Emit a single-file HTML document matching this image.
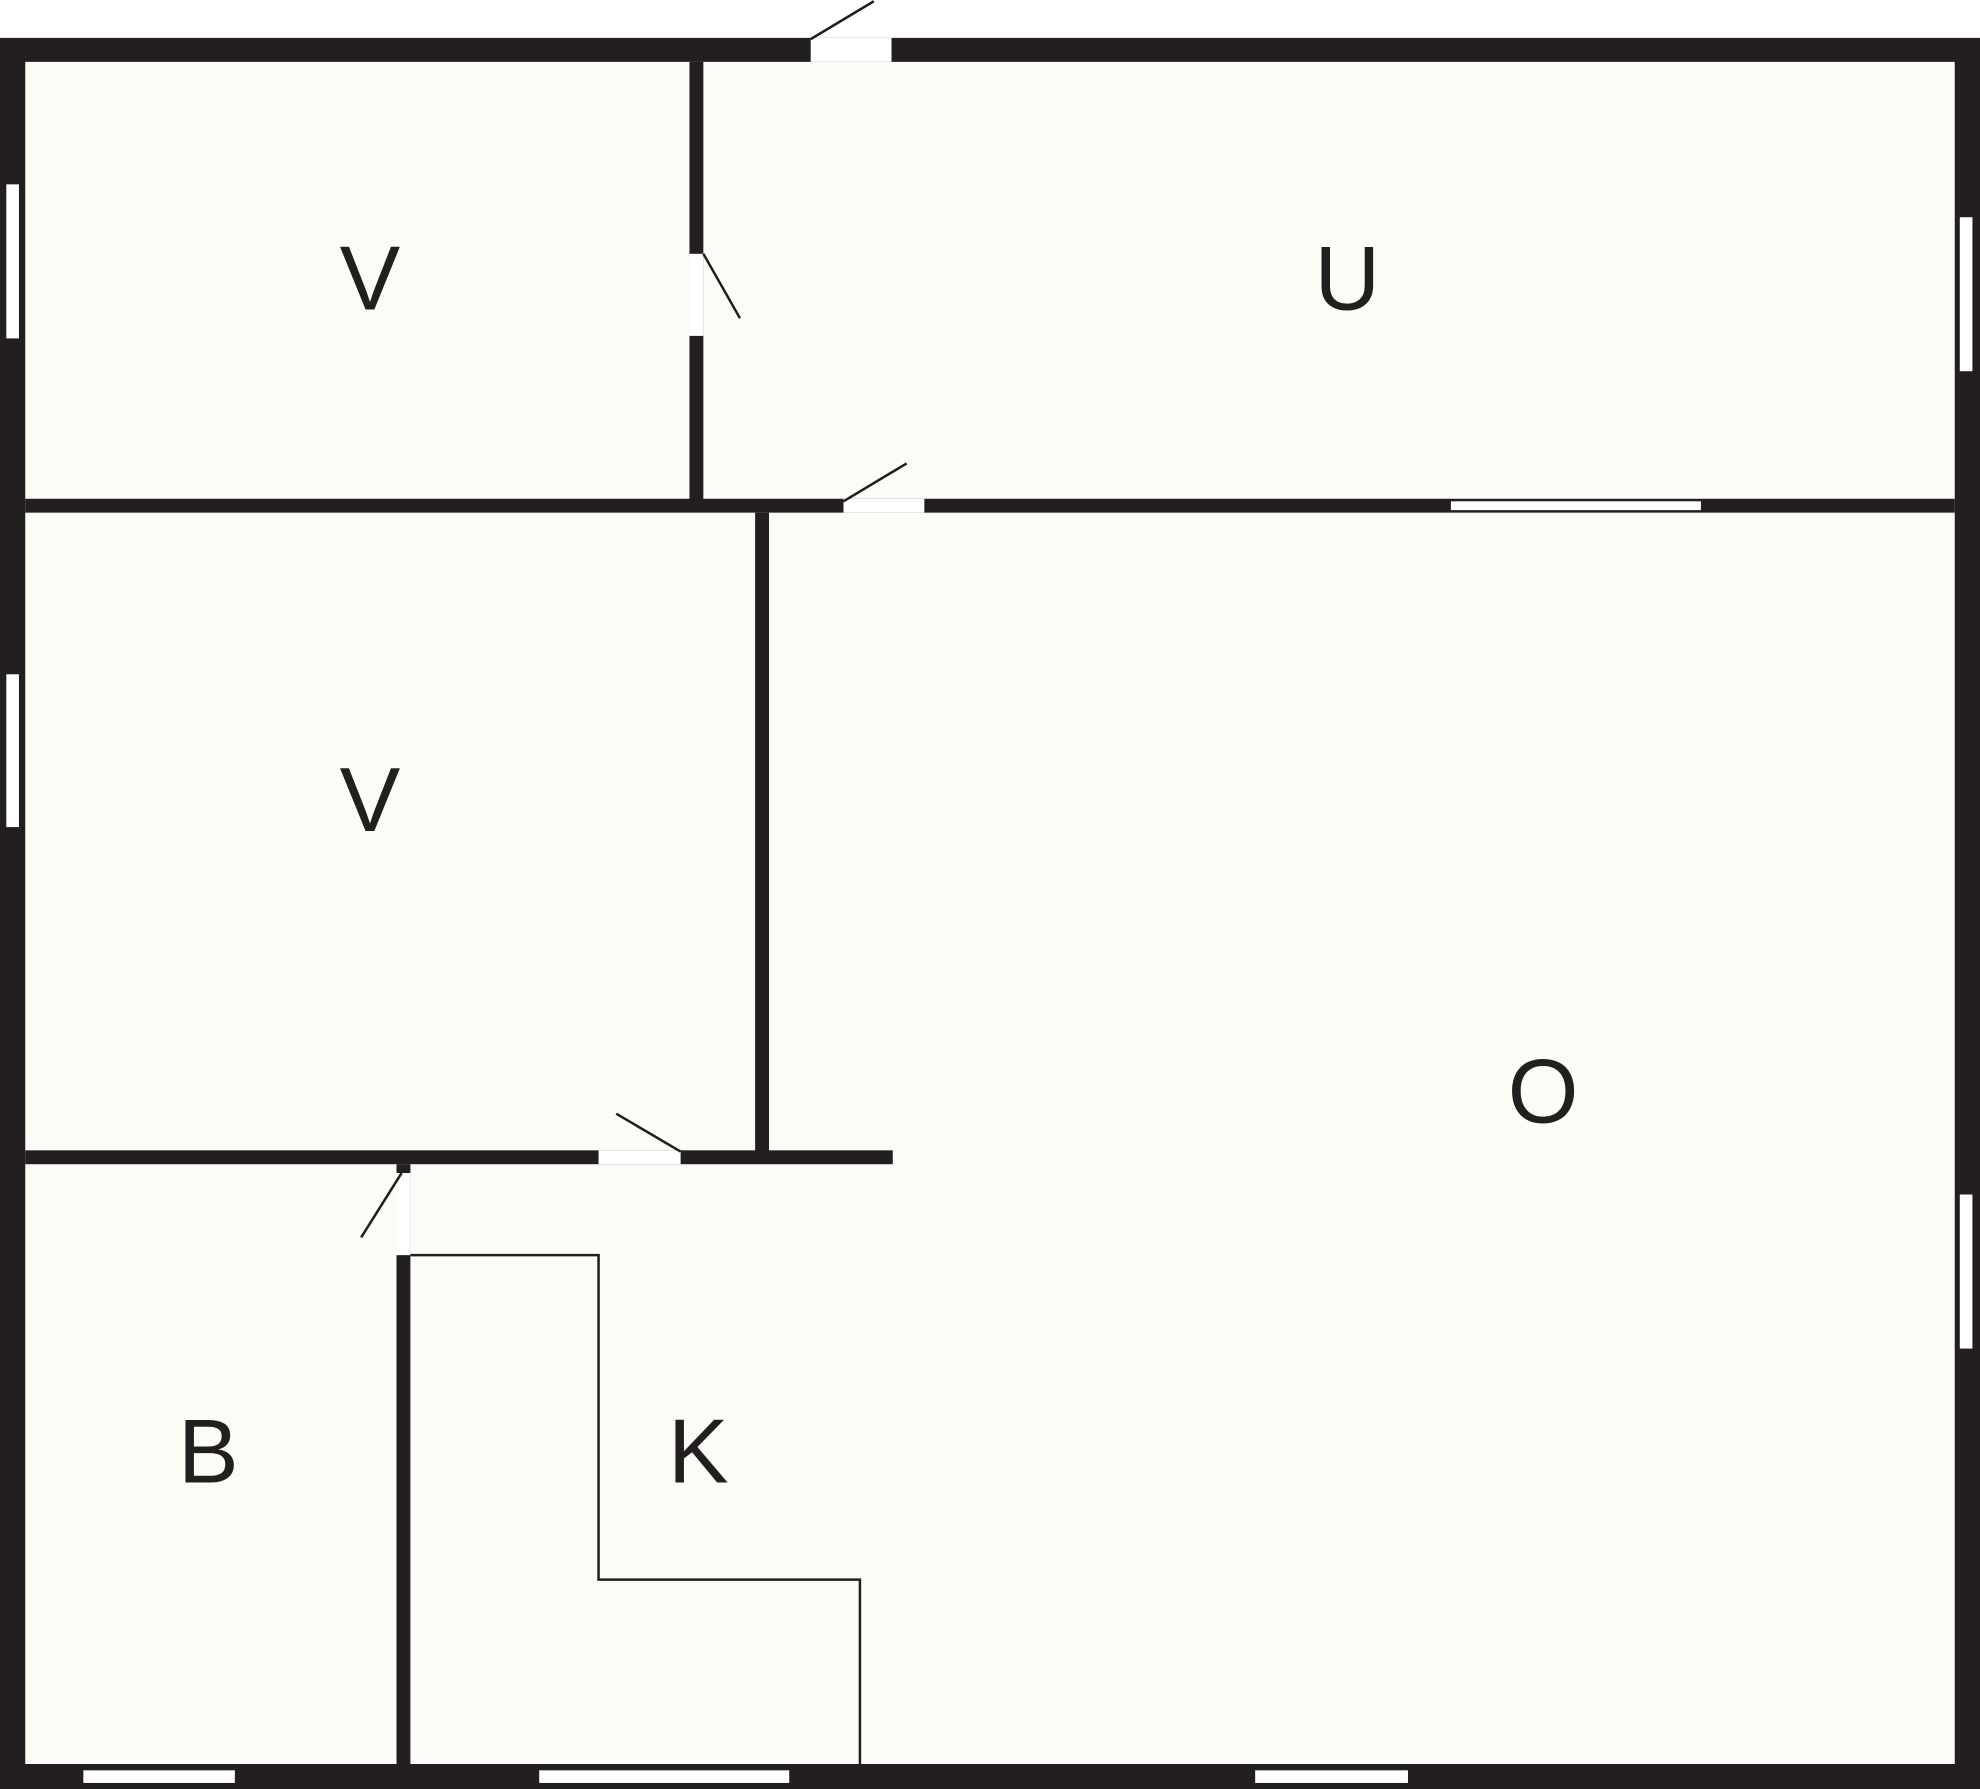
<!DOCTYPE html>
<html><head><meta charset="utf-8"><style>
html,body{margin:0;padding:0;background:#fff;}
svg{display:block;}
text{font-family:"Liberation Sans",sans-serif;font-size:72px;fill:#231f20;text-anchor:middle;}
</style></head><body>
<svg width="1980" height="1789" viewBox="0 0 1568 1416.8" preserveAspectRatio="none" xmlns="http://www.w3.org/2000/svg">
<rect x="0" y="0" width="1568" height="1417" fill="#fff"/>
<!-- outer walls -->
<rect x="0" y="30" width="1568" height="1387" fill="#231f20"/>
<rect x="20" y="49" width="1528" height="1348" fill="#fcfcf7"/>
<g fill="#231f20">
<rect x="546" y="49" width="11" height="347"/>
<rect x="20" y="395" width="1528" height="11"/>
<rect x="598" y="406" width="11" height="506"/>
<rect x="20" y="911" width="687" height="11"/>
<rect x="314" y="922" width="11" height="475"/>
</g>
<g fill="#fff">
<!-- door gaps -->
<rect x="642" y="30" width="64" height="19"/>
<rect x="546" y="201" width="11" height="65"/>
<rect x="668" y="395" width="64" height="11"/>
<rect x="474" y="911" width="65" height="11"/>
<rect x="314" y="929" width="11" height="65"/>
<!-- windows -->
<rect x="1149" y="397" width="198" height="7"/>
<rect x="5" y="146" width="10" height="122"/>
<rect x="5" y="534" width="10" height="121"/>
<rect x="1552" y="172" width="10" height="122"/>
<rect x="1552" y="946" width="10" height="122"/>
<rect x="66" y="1402" width="120" height="10"/>
<rect x="427" y="1402" width="198" height="10"/>
<rect x="994" y="1402" width="121" height="10"/>
</g>
<g stroke="#231f20" stroke-width="2" fill="none">
<line x1="642" y1="31" x2="692" y2="1"/>
<line x1="557" y1="201" x2="586" y2="252"/>
<line x1="668" y1="397" x2="718" y2="367"/>
<line x1="539" y1="912" x2="488" y2="882"/>
<line x1="318" y1="929" x2="286" y2="980"/>
<polyline points="325,994 474,994 474,1251 681,1251 681,1397"/>
</g>
<text x="293" y="245">V</text>
<text x="1067" y="245">U</text>
<text x="293" y="658">V</text>
<text x="1222" y="889">O</text>
<text x="165" y="1174">B</text>
<text x="553" y="1174">K</text>
</svg>
</body></html>
